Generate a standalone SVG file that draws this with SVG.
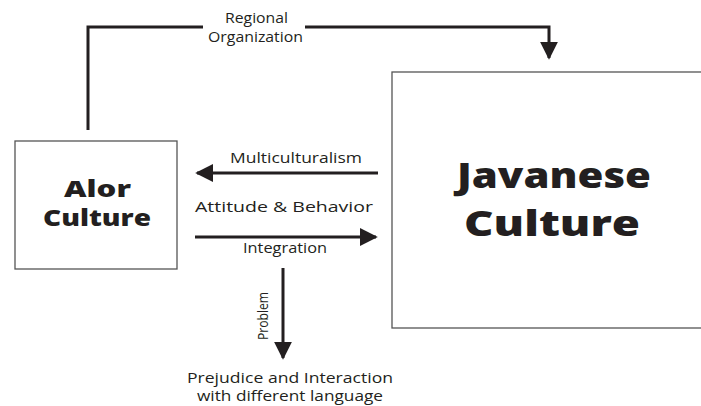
<svg xmlns="http://www.w3.org/2000/svg" width="701" height="406" viewBox="0 0 701 406">
<style>
.box{fill:#fff;stroke:#555;stroke-width:1.3}
.ln{fill:none;stroke:#231f20;stroke-width:3}
.lbl{font-family:"Open Sans",sans-serif;font-size:15px;fill:#231f20}
.big{font-family:"Open Sans",sans-serif;font-weight:800;fill:#231f20}
</style>
<defs>
<marker id="ah" viewBox="0 0 10 10" refX="9" refY="5" markerWidth="6" markerHeight="6" markerUnits="strokeWidth" orient="auto">
<path d="M0,0 L10,5 L0,10 z" fill="#231f20"/>
</marker>
</defs>
<rect width="701" height="406" fill="#fff"/>
<g id="alor">
<rect class="box" x="15" y="141" width="162" height="128"/>
<text class="big" x="64" y="197" font-size="23" textLength="67" lengthAdjust="spacingAndGlyphs">Alor</text>
<text class="big" x="43" y="226" font-size="23" textLength="108" lengthAdjust="spacingAndGlyphs">Culture</text>
</g>
<g id="javanese">
<rect class="box" x="392" y="72" width="320" height="256"/>
<text class="big" x="457" y="188" font-size="36" textLength="194" lengthAdjust="spacingAndGlyphs">Javanese</text>
<text class="big" x="464" y="236" font-size="36" textLength="176" lengthAdjust="spacingAndGlyphs">Culture</text>
</g>
<g id="outcome">
<text class="lbl" x="187" y="383" font-size="14.5" textLength="206" lengthAdjust="spacingAndGlyphs">Prejudice and Interaction</text>
<text class="lbl" x="197" y="401" font-size="14.5" textLength="186" lengthAdjust="spacingAndGlyphs">with different language</text>
</g>
<g id="connectors">
<path class="ln" d="M88,130 V27 H203 M305,27 H549 V58" marker-end="url(#ah)"/>
<text class="lbl" x="225" y="23" font-size="13" textLength="63" lengthAdjust="spacingAndGlyphs">Regional</text>
<text class="lbl" x="208" y="42" font-size="13" textLength="95" lengthAdjust="spacingAndGlyphs">Organization</text>
<path class="ln" d="M378,173 H197" marker-end="url(#ah)"/>
<text class="lbl" x="230" y="163" textLength="132" lengthAdjust="spacingAndGlyphs">Multiculturalism</text>
<text class="lbl" x="195" y="212" textLength="178" lengthAdjust="spacingAndGlyphs">Attitude &amp; Behavior</text>
<path class="ln" d="M195,237 H376" marker-end="url(#ah)"/>
<text class="lbl" x="243" y="253" textLength="84" lengthAdjust="spacingAndGlyphs">Integration</text>
<path class="ln" d="M283,268 V358" marker-end="url(#ah)"/>
<text class="lbl" x="0" y="0" font-size="13" transform="translate(268,340) rotate(-90)" textLength="48" lengthAdjust="spacingAndGlyphs">Problem</text>
</g>
</svg>
